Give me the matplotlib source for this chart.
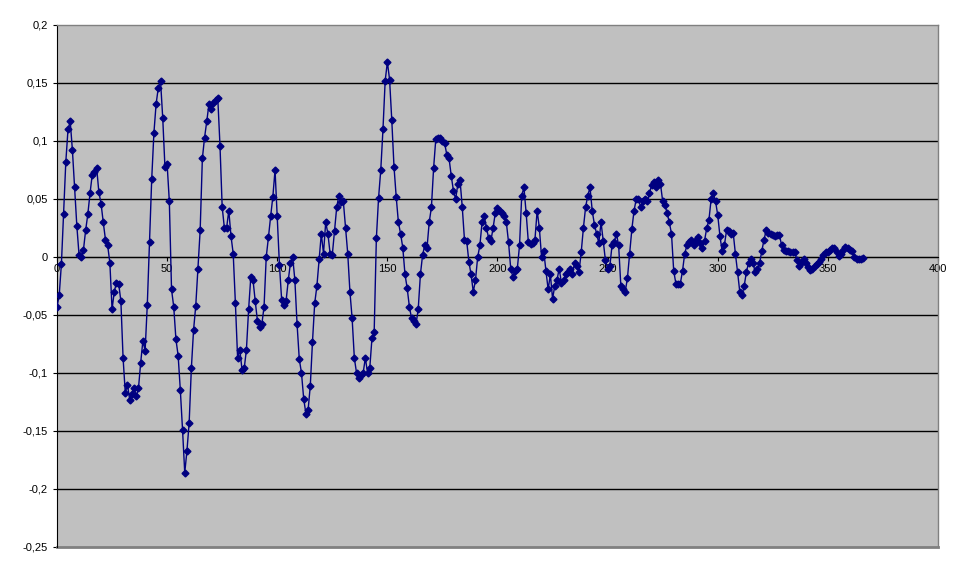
import numpy as np
import matplotlib
matplotlib.use("Agg")
import matplotlib.pyplot as plt
from matplotlib.ticker import FuncFormatter

# Series values (x = 0, 1, 2, ...)
values = [
    -0.043, -0.033, -0.006, 0.037, 0.082, 0.110, 0.117, 0.092, 0.060, 0.027,
    0.002, 0.000, 0.006, 0.023, 0.037, 0.055, 0.071, 0.073, 0.077, 0.056,
    0.046, 0.030, 0.015, 0.010, -0.005, -0.045, -0.030, -0.022, -0.023, -0.038,
    -0.087, -0.117, -0.110, -0.123, -0.118, -0.113, -0.120, -0.113, -0.091, -0.072,
    -0.081, -0.041, 0.013, 0.067, 0.107, 0.132, 0.146, 0.152, 0.120, 0.078,
    0.080, 0.048, -0.028, -0.043, -0.071, -0.085, -0.115, -0.149, -0.186, -0.167,
    -0.143, -0.096, -0.063, -0.042, -0.010, 0.023, 0.085, 0.103, 0.117, 0.132,
    0.128, 0.133, 0.135, 0.137, 0.096, 0.043, 0.025, 0.025, 0.040, 0.018,
    0.003, -0.040, -0.087, -0.080, -0.097, -0.096, -0.080, -0.045, -0.017, -0.020,
    -0.038, -0.055, -0.060, -0.058, -0.043, 0.000, 0.017, 0.035, 0.052, 0.075,
    0.035, -0.007, -0.037, -0.041, -0.038, -0.020, -0.005, 0.000, -0.020, -0.058,
    -0.088, -0.100, -0.122, -0.135, -0.132, -0.111, -0.073, -0.040, -0.025, -0.002,
    0.020, 0.003, 0.030, 0.020, 0.003, 0.002, 0.022, 0.043, 0.053, 0.047,
    0.048, 0.025, 0.003, -0.030, -0.053, -0.087, -0.100, -0.104, -0.102, -0.100,
    -0.087, -0.100, -0.096, -0.070, -0.065, 0.016, 0.051, 0.075, 0.110, 0.152,
    0.168, 0.153, 0.118, 0.078, 0.052, 0.030, 0.020, 0.008, -0.015, -0.027,
    -0.043, -0.053, -0.055, -0.058, -0.045, -0.015, 0.002, 0.010, 0.008, 0.030,
    0.043, 0.077, 0.102, 0.103, 0.103, 0.100, 0.098, 0.088, 0.085, 0.070,
    0.057, 0.050, 0.063, 0.066, 0.043, 0.015, 0.014, -0.004, -0.015, -0.030,
    -0.020, 0.000, 0.010, 0.030, 0.035, 0.025, 0.016, 0.014, 0.025, 0.038,
    0.042, 0.040, 0.038, 0.035, 0.030, 0.013, -0.010, -0.017, -0.012, -0.010,
    0.010, 0.053, 0.060, 0.038, 0.013, 0.011, 0.012, 0.015, 0.040, 0.025,
    0.000, 0.005, -0.012, -0.028, -0.015, -0.036, -0.025, -0.020, -0.010, -0.022,
    -0.020, -0.015, -0.013, -0.010, -0.015, -0.005, -0.008, -0.013, 0.004, 0.025,
    0.043, 0.053, 0.060, 0.040, 0.028, 0.020, 0.012, 0.030, 0.014, -0.003,
    -0.010, -0.008, 0.010, 0.013, 0.020, 0.010, -0.025, -0.028, -0.030, -0.018,
    0.003, 0.024, 0.040, 0.050, 0.050, 0.043, 0.048, 0.050, 0.048, 0.055,
    0.062, 0.065, 0.060, 0.066, 0.063, 0.048, 0.045, 0.038, 0.030, 0.020,
    -0.012, -0.023, -0.023, -0.023, -0.012, 0.003, 0.010, 0.013, 0.015, 0.010,
    0.015, 0.017, 0.012, 0.008, 0.014, 0.025, 0.032, 0.050, 0.055, 0.048,
    0.036, 0.018, 0.005, 0.010, 0.023, 0.022, 0.020, 0.021, 0.003, -0.013,
    -0.030, -0.033, -0.025, -0.013, -0.005, -0.002, -0.005, -0.013, -0.010, -0.005,
    0.005, 0.015, 0.023, 0.021, 0.020, 0.019, 0.018, 0.019, 0.019, 0.010,
    0.006, 0.005, 0.005, 0.004, 0.004, 0.004, -0.003, -0.008, -0.005, -0.002,
    -0.005, -0.009, -0.011, -0.010, -0.008, -0.006, -0.004, -0.002, 0.002, 0.004,
    0.004, 0.006, 0.008, 0.008, 0.004, 0.001, 0.003, 0.006, 0.009, 0.008,
    0.006, 0.005, 0.000, -0.002, -0.002, -0.002, -0.001,
]
x_ticks = [0, 50, 100, 150, 200, 250, 300, 350, 400]
y_ticks = [-0.25, -0.2, -0.15, -0.1, -0.05, 0, 0.05, 0.1, 0.15, 0.2]

plt.rcParams["font.family"] = ["Liberation Sans", "DejaVu Sans"]

fig = plt.figure(figsize=(9.7, 5.73), dpi=100)
ax = fig.add_axes([57 / 970, 1 - 547 / 573, (938 - 57) / 970, (547 - 25) / 573])
ax.set_facecolor("#C0C0C0")

xs = np.arange(len(values))
ax.plot(xs, values, color="#000080", lw=1, marker="D", ms=3.5,
        markerfacecolor="#000080", markeredgecolor="#000080", zorder=3)

ax.set_xlim(0, 400)
ax.set_ylim(-0.25, 0.2)
ax.set_xticks(x_ticks)
ax.set_yticks(y_ticks)

# black gridlines inside, grey plot-area border at the edges
for yv in y_ticks[1:-1]:
    ax.axhline(yv, color="black", lw=1, zorder=1)
ax.axhline(-0.25, color="#808080", lw=2, zorder=2, clip_on=False)

def comma_fmt(v, pos):
    s = ("%.2f" % v).rstrip("0").rstrip(".")
    if s in ("-0", ""):
        s = "0"
    return s.replace(".", ",")

ax.yaxis.set_major_formatter(FuncFormatter(comma_fmt))
ax.xaxis.set_major_formatter(FuncFormatter(lambda v, p: "%d" % v))

ax.spines["top"].set_color("#808080")
ax.spines["right"].set_color("#808080")
ax.spines["top"].set_linewidth(1)
ax.spines["right"].set_linewidth(1)
ax.spines["bottom"].set_position(("data", 0))
ax.spines["bottom"].set_color("black")
ax.spines["left"].set_color("black")
ax.tick_params(axis="both", labelsize=8, length=3, color="black", direction="out")
ax.tick_params(axis="x", pad=2)

fig.savefig("out.png", dpi=100, facecolor="white")
